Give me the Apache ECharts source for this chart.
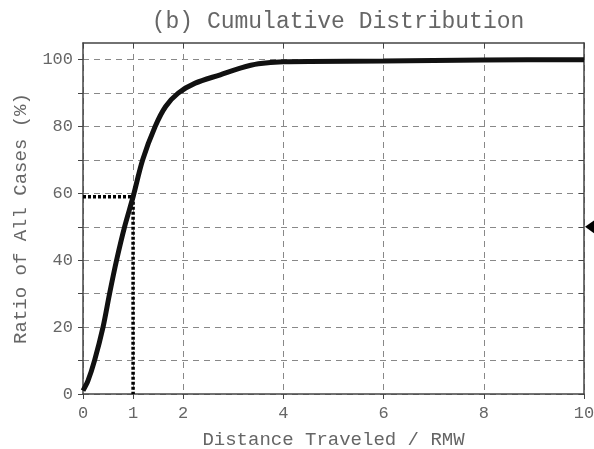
<!DOCTYPE html>
<html>
<head>
<meta charset="utf-8">
<script src="https://cdn.jsdelivr.net/npm/echarts@6/dist/echarts.min.js"></script>
<style>
  html, body { margin: 0; padding: 0; background: #fff; }
  #chart { width: 594px; height: 449px; }
</style>
</head>
<body>
<div id="chart"></div>
<script>
// Cumulative share of cases vs. distance traveled (in RMW units)
const distance = [0, 0.1, 0.23, 0.4, 0.53, 0.67, 0.83, 1.0, 1.19, 1.44, 1.65, 1.9, 2.24, 2.74, 3.14, 3.5, 4.0, 6.0, 8.0, 10.0];
const ratio    = [1, 4,   10,   20,  30,   40,   50,   59,  70,   80,   86,   90,  93,   95.5, 97.5, 98.8, 99.4, 99.6, 99.9, 100];

// Reference lines marking the share reached at distance = 1
const refX = [0, 1, 1];
const refY = [59, 59, 0];

// Median marker on the right edge
const medianMark = [10, 50];

const xTickValues = [0, 1, 2, 4, 6, 8, 10];
const yTickValues = [0, 10, 20, 30, 40, 50, 60, 70, 80, 90, 100];
const yLabelValues = [0, 20, 40, 60, 80, 100];

const FONT = '"Liberation Mono", "DejaVu Sans Mono", monospace';
const TEXT = '#666';
const FRAME = '#444';

const chart = echarts.init(document.getElementById('chart'));

const gridLine = { show: true, lineStyle: { color: '#888', type: [6, 5], width: 1 } };

chart.setOption({
  animation: false,
  title: {
    text: '(b) Cumulative Distribution',
    left: 333, top: 5, textAlign: 'center',
    textStyle: { fontFamily: FONT, fontWeight: 'normal', fontSize: 23, color: TEXT }
  },
  grid: { left: 83, right: 10, top: 43, bottom: 55, containLabel: false, outerBoundsMode: 'none' },
  xAxis: [{
    type: 'value', min: 0, max: 10, position: 'bottom',
    name: 'Distance Traveled / RMW', nameLocation: 'middle', nameGap: 36,
    nameTextStyle: { fontFamily: FONT, fontSize: 19, color: TEXT },
    axisLine: { show: true, onZero: false, lineStyle: { color: FRAME, width: 1.5 } },
    axisTick: { show: true, inside: false, length: 5, customValues: xTickValues, lineStyle: { color: FRAME } },
    axisLabel: { customValues: xTickValues, fontFamily: FONT, fontSize: 17, color: TEXT, margin: 11 },
    splitLine: gridLine
  }, {
    type: 'value', min: 0, max: 10, position: 'top',
    axisLine: { show: true, onZero: false, lineStyle: { color: FRAME, width: 1.5 } },
    axisTick: { show: true, inside: true, length: 5, customValues: xTickValues, lineStyle: { color: FRAME } },
    axisLabel: { show: false },
    splitLine: { show: false }
  }],
  yAxis: [{
    type: 'value', min: 0, max: 105, position: 'left',
    name: 'Ratio of All Cases (%)', nameLocation: 'middle', nameGap: 53, nameRotate: 90,
    nameTextStyle: { fontFamily: FONT, fontSize: 19, color: TEXT },
    axisLine: { show: true, onZero: false, lineStyle: { color: FRAME, width: 1.5 } },
    axisTick: { show: true, inside: false, length: 5, customValues: yTickValues, lineStyle: { color: FRAME } },
    axisLabel: { customValues: yLabelValues, fontFamily: FONT, fontSize: 17, color: TEXT, margin: 10 },
    splitLine: gridLine
  }, {
    type: 'value', min: 0, max: 105, position: 'right',
    axisLine: { show: true, onZero: false, lineStyle: { color: FRAME, width: 1.5 } },
    axisTick: { show: true, inside: true, length: 5, customValues: yTickValues, lineStyle: { color: FRAME } },
    axisLabel: { show: false },
    splitLine: { show: false }
  }],
  series: [{
    type: 'line',
    data: refX.map((x, i) => [x, refY[i]]),
    showSymbol: false,
    lineStyle: { color: '#000', width: 3.5, type: [3, 2] },
    z: 3
  }, {
    type: 'line',
    data: distance.map((x, i) => [x, ratio[i]]),
    smooth: 0.3,
    showSymbol: false,
    lineStyle: { color: '#111', width: 5 },
    z: 4
  }, {
    type: 'scatter',
    data: [medianMark],
    symbol: 'triangle',
    symbolRotate: 90,
    symbolSize: [14, 10],
    symbolOffset: [6, 0],
    itemStyle: { color: '#000', opacity: 1 },
    clip: false,
    silent: true,
    z: 5
  }]
});
</script>
</body>
</html>
